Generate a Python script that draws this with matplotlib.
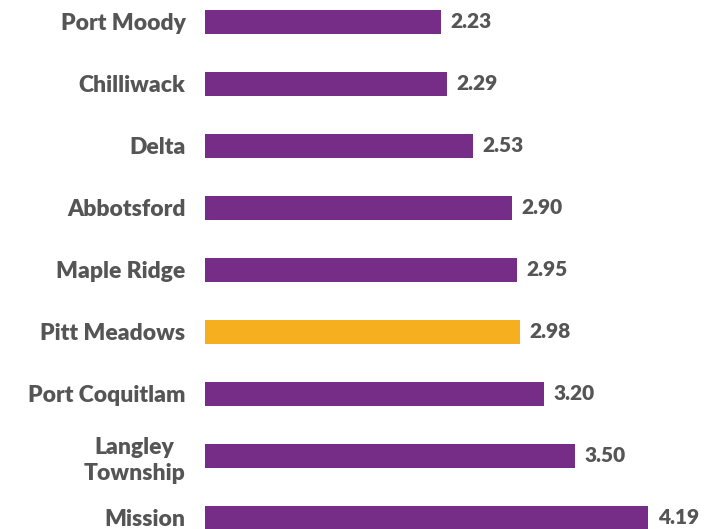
import numpy as np
import matplotlib.pyplot as plt

# municipalities, top to bottom
cities = [
    'Port Moody', 'Chilliwack', 'Delta', 'Abbotsford', 'Maple Ridge',
    'Pitt Meadows', 'Port Coquitlam', 'Langley\nTownship', 'Mission',
]
values = [2.23, 2.29, 2.53, 2.90, 2.95, 2.98, 3.20, 3.50, 4.19]
highlight = 'Pitt Meadows'

PURPLE = '#762D87'
ORANGE = '#F5AF1F'
TEXT = '#555555'

plt.rcParams['font.family'] = ['Lato', 'DejaVu Sans']

fig = plt.figure(figsize=(7.09, 5.29), dpi=100)
ax = fig.add_axes([205 / 709, 0, 1 - 205 / 709, 1])

y = np.arange(len(cities))
colors = [ORANGE if c == highlight else PURPLE for c in cities]
ax.barh(y, values, height=0.39, color=colors)

for yi, v in zip(y, values):
    ax.text(v + 0.09, yi, f'{v:.2f}', va='center', ha='left',
            fontsize=15, fontweight='heavy', color=TEXT)

ax.set_yticks(y)
ax.set_yticklabels(cities, fontsize=16.5, fontweight='heavy', color=TEXT,
                   multialignment='center', linespacing=1.3)
ax.tick_params(axis='y', length=0, pad=14)
ax.set_xticks([])
ax.set_xlim(0, (709 - 205) / 105.8)
ax.set_ylim((529 - 22) / 62, -22 / 62)
for s in ax.spines.values():
    s.set_visible(False)

fig.savefig('out.png', dpi=100)
